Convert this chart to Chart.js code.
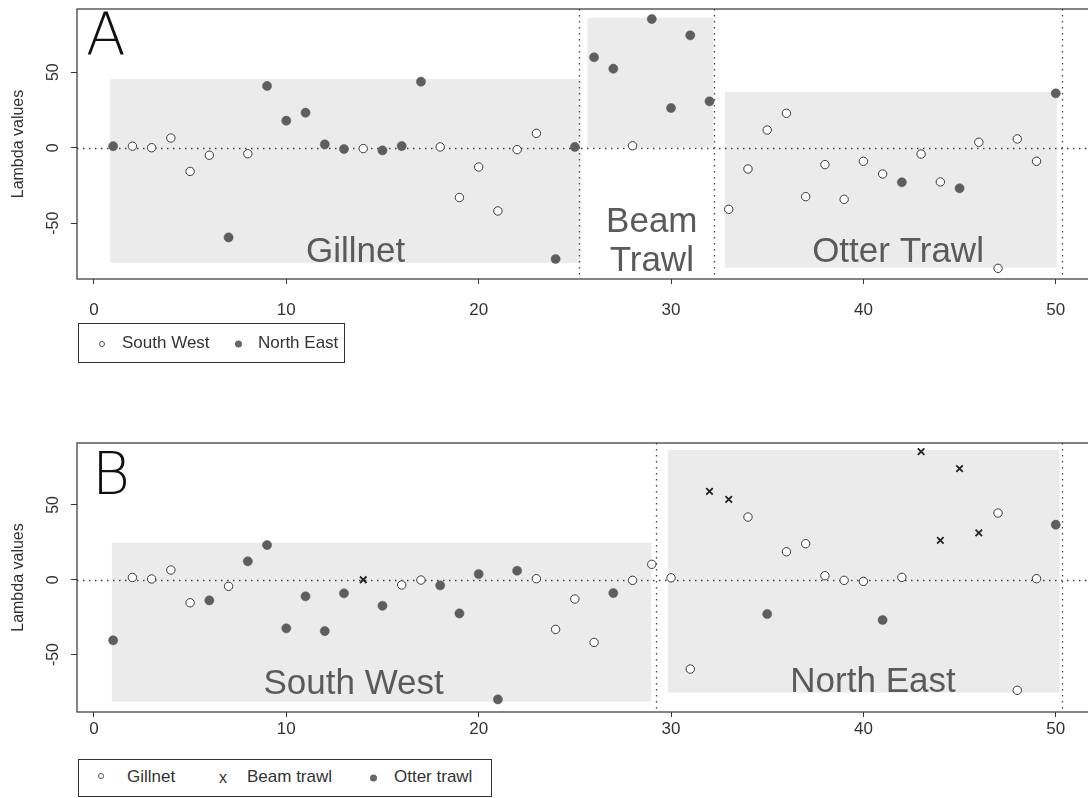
<!DOCTYPE html>
<html>
<head>
<meta charset="utf-8">
<title>Lambda values by gear and region</title>
<script src="https://cdn.jsdelivr.net/npm/chart.js@4.4.0/dist/chart.umd.min.js"></script>
<style>
  body { margin: 0; background: #fff; width: 1088px; height: 798px; overflow: hidden; position: relative;
         font-family: "Liberation Sans", Arial, sans-serif; }
  .panel { position: absolute; left: 0; width: 1110px; height: 320px; }
  #wrapA { top: 0; }
  #wrapB { top: 433px; }
  .letter { position: absolute; font-family: "DejaVu Sans", sans-serif; font-weight: 200; font-size: 58px;
            line-height: 1; color: #111; }
  .legend { position: absolute; left: 78px; border: 1px solid #333; box-sizing: border-box; color: #333; font-size: 17px; }
  .legend span { position: absolute; transform: translateY(-50%); white-space: nowrap; }
  .dot { width: 7px; height: 7px; border-radius: 50%; margin-left: -3.5px; }
  .dot.open { background: #fff; border: 1px solid #555; box-sizing: border-box; width: 6px; height: 6px; margin-left: -3px; }
  .dot.fill { background: #666; }
</style>
</head>
<body>
<div class="panel" id="wrapA"><canvas id="chartA"></canvas></div>
<div class="panel" id="wrapB"><canvas id="chartB"></canvas></div>

<div class="letter" style="left:86px; top:6px;">A</div>
<div class="letter" style="left:92px; top:445px;">B</div>

<div class="legend" style="top:323px; width:267px; height:40px;">
  <span class="dot open" style="left:23px; top:20px;"></span>
  <span style="left:43px; top:19px;">South West</span>
  <span class="dot fill" style="left:159px; top:20px;"></span>
  <span style="left:179px; top:19px;">North East</span>
</div>
<div class="legend" style="top:759px; width:414px; height:38px;">
  <span class="dot open" style="left:22px; top:16px;"></span>
  <span style="left:48px; top:17px;">Gillnet</span>
  <span style="left:140px; top:18px; font-size:16px;">x</span>
  <span style="left:168px; top:17px;">Beam trawl</span>
  <span class="dot fill" style="left:294px; top:18px;"></span>
  <span style="left:315px; top:17px;">Otter trawl</span>
</div>

<script>
// observation index (x axis)
const obsIndex = [1, 2, 3, 4, 5, 6, 7, 8, 9, 10, 11, 12, 13, 14, 15, 16, 17, 18, 19, 20, 21, 22, 23, 24, 25,
  26, 27, 28, 29, 30, 31, 32, 33, 34, 35, 36, 37, 38, 39, 40, 41, 42, 43, 44, 45, 46, 47, 48, 49, 50];
const xTicks = [0, 10, 20, 30, 40, 50];
const yTicks = [-50, 0, 50];

// panel A: sorted by gear, marker by region
const lambdaA = [1, 1, 0, 6.4, -15.7, -5, -59.4, -4, 40.9, 17.9, 23.2, 2.2, -0.9, -0.6, -1.8, 1.1, 43.7, 0.5,
  -33, -12.8, -41.9, -1.3, 9.5, -73.7, 0.5, 59.9, 52.3, 1.3, 85.2, 26.3, 74.4, 30.7, -40.8, -14.1, 11.7, 22.8,
  -32.4, -11.2, -34.2, -9, -17.4, -22.9, -4.2, -22.7, -26.9, 3.6, -79.9, 5.8, -9, 36];
const regionA = ['NE', 'SW', 'SW', 'SW', 'SW', 'SW', 'NE', 'SW', 'NE', 'NE', 'NE', 'NE', 'NE', 'SW', 'NE', 'NE',
  'NE', 'SW', 'SW', 'SW', 'SW', 'SW', 'SW', 'NE', 'NE', 'NE', 'NE', 'SW', 'NE', 'NE', 'NE', 'NE', 'SW', 'SW', 'SW',
  'SW', 'SW', 'SW', 'SW', 'SW', 'SW', 'NE', 'SW', 'SW', 'NE', 'SW', 'SW', 'SW', 'SW', 'NE'];

// panel B: sorted by region, marker by gear
const lambdaB = [-40.5, 1.5, 0.5, 6.5, -15.4, -13.8, -4.4, 12.3, 23.2, -32.5, -11.1, -34.3, -9.1, 0, -17.4, -3.5,
  -0.2, -3.8, -22.5, 3.8, -80, 6, 0.7, -33.2, -12.9, -41.9, -8.9, -0.4, 10.3, 1.3, -59.7, 59.1, 53.7, 41.9, -22.9,
  18.7, 24.1, 2.7, -0.4, -1.1, -26.9, 1.6, 85.6, 26.3, 74.2, 31.4, 44.6, -73.9, 0.7, 36.8];
const gearB = ['OT', 'GN', 'GN', 'GN', 'GN', 'OT', 'GN', 'OT', 'OT', 'OT', 'OT', 'OT', 'OT', 'BT', 'OT', 'GN', 'GN',
  'OT', 'OT', 'OT', 'OT', 'OT', 'GN', 'GN', 'GN', 'GN', 'OT', 'GN', 'GN', 'GN', 'GN', 'BT', 'BT', 'GN', 'OT', 'GN',
  'GN', 'GN', 'GN', 'GN', 'OT', 'GN', 'BT', 'BT', 'BT', 'BT', 'GN', 'GN', 'GN', 'OT'];

// group ranges [x0, x1, y0, y1] and the dividers between groups
const boxesA = [[0.85, 25.3, -76.2, 45.5], [25.65, 32.2, 0, 86.1], [32.8, 50.05, -79.5, 36.9]];
const dividersA = [25.2, 32.25, 50.35];
const boxesB = [[0.93, 28.97, -81.5, 24.7], [29.85, 50.2, -75.5, 86.7]];
const dividersB = [29.2, 50.35];

const groupLabelsA = [
  { text: 'Gillnet', x: 13.6, y: -75.5 },
  { text: 'Beam', x: 29.0, y: -56.1 },
  { text: 'Trawl', x: 29.0, y: -81.5 },
  { text: 'Otter Trawl', x: 41.8, y: -75.5 },
];
const groupLabelsB = [
  { text: 'South West', x: 13.5, y: -76.6 },
  { text: 'North East', x: 40.5, y: -74.9 },
];

const FONT = '"Liberation Sans", Arial, sans-serif';

const pick = (values, codes, code) =>
  obsIndex.map((x, i) => ({ x: x, y: values[i] })).filter((p, i) => codes[i] === code);

const openStyle = { pointStyle: 'circle', pointRadius: 4.2, backgroundColor: '#fff', borderColor: '#3a3a3a', borderWidth: 1 };
const fillStyle = { pointStyle: 'circle', pointRadius: 4.6, backgroundColor: '#5e5e5e', borderColor: '#5e5e5e', borderWidth: 0.5 };
const crossStyle = { pointStyle: 'crossRot', pointRadius: 4.6, backgroundColor: '#222', borderColor: '#222', borderWidth: 1.8 };

// shaded group boxes, group names, dotted reference lines and the frame
const panelDecor = {
  id: 'panelDecor',
  beforeDatasetsDraw(chart, args, opts) {
    const { ctx, chartArea: a, scales: { x, y } } = chart;
    ctx.save();
    ctx.fillStyle = '#ebebeb';
    opts.boxes.forEach(b => {
      const l = x.getPixelForValue(b[0]);
      const r = x.getPixelForValue(b[1]);
      const t = y.getPixelForValue(b[3]);
      const bt = y.getPixelForValue(b[2]);
      ctx.fillRect(l, t, r - l, bt - t);
    });

    ctx.fillStyle = '#5a5a5a';
    ctx.font = '35px ' + FONT;
    ctx.textAlign = 'center';
    ctx.textBaseline = 'alphabetic';
    opts.labels.forEach(lb => {
      ctx.fillText(lb.text, x.getPixelForValue(lb.x), y.getPixelForValue(lb.y));
    });

    ctx.strokeStyle = '#444';
    ctx.lineWidth = 1.3;
    ctx.setLineDash([1.5, 4.5]);
    ctx.beginPath();
    const y0 = Math.round(y.getPixelForValue(0)) + 0.5;
    ctx.moveTo(a.left, y0);
    ctx.lineTo(a.right, y0);
    opts.dividers.forEach(d => {
      const px = Math.round(x.getPixelForValue(d)) + 0.5;
      ctx.moveTo(px, a.top);
      ctx.lineTo(px, a.bottom);
    });
    ctx.stroke();
    ctx.restore();
  },
  afterDraw(chart) {
    const { ctx, chartArea: a } = chart;
    ctx.save();
    ctx.strokeStyle = '#333';
    ctx.lineWidth = 1.2;
    ctx.strokeRect(a.left, a.top, a.right - a.left, a.bottom - a.top);
    ctx.restore();
  }
};

function noEdgePadding(s) {
  s.paddingTop = 0;
  s.paddingBottom = 0;
  s.paddingLeft = 0;
  s.paddingRight = 0;
}

function makeOptions(yMin, yMax, padTop, labelPad, decor) {
  return {
    responsive: true,
    maintainAspectRatio: false,
    animation: false,
    layout: { padding: { top: padTop, right: 10, left: 0, bottom: 0 } },
    plugins: { legend: { display: false }, tooltip: { enabled: false }, panelDecor: decor },
    scales: {
      x: {
        type: 'linear',
        min: -0.88,
        max: 52.3,
        afterBuildTicks: s => { s.ticks = xTicks.map(v => ({ value: v })); },
        afterFit: s => { s.height = 41; noEdgePadding(s); },
        grid: { drawOnChartArea: false, drawTicks: true, tickLength: 5, color: '#333' },
        border: { display: false },
        ticks: { color: '#333', font: { size: 17, family: FONT }, padding: labelPad, maxRotation: 0 }
      },
      y: {
        type: 'linear',
        min: yMin,
        max: yMax,
        afterBuildTicks: s => { s.ticks = yTicks.map(v => ({ value: v })); },
        afterFit: s => { s.width = 77; noEdgePadding(s); },
        grid: { drawOnChartArea: false, drawTicks: true, tickLength: 6, color: '#333' },
        border: { display: false },
        ticks: { color: '#333', font: { size: 16, family: FONT }, minRotation: 90, maxRotation: 90,
                 crossAlign: 'center', padding: 6 },
        title: { display: true, text: 'Lambda values', color: '#333', font: { size: 16, family: FONT },
                 padding: { top: 9, bottom: 0 } }
      }
    }
  };
}

const chartA = new Chart(document.getElementById('chartA'), {
  type: 'scatter',
  data: {
    datasets: [
      Object.assign({ label: 'South West', data: pick(lambdaA, regionA, 'SW') }, openStyle),
      Object.assign({ label: 'North East', data: pick(lambdaA, regionA, 'NE') }, fillStyle),
    ]
  },
  options: makeOptions(-86.95, 91.85, 9, 16, { boxes: boxesA, labels: groupLabelsA, dividers: dividersA }),
  plugins: [panelDecor]
});

const chartB = new Chart(document.getElementById('chartB'), {
  type: 'scatter',
  data: {
    datasets: [
      Object.assign({ label: 'Gillnet', data: pick(lambdaB, gearB, 'GN') }, openStyle),
      Object.assign({ label: 'Beam trawl', data: pick(lambdaB, gearB, 'BT') }, crossStyle),
      Object.assign({ label: 'Otter trawl', data: pick(lambdaB, gearB, 'OT') }, fillStyle),
    ]
  },
  options: makeOptions(-88.4, 91.4, 10, 2, { boxes: boxesB, labels: groupLabelsB, dividers: dividersB }),
  plugins: [panelDecor]
});
</script>
</body>
</html>
